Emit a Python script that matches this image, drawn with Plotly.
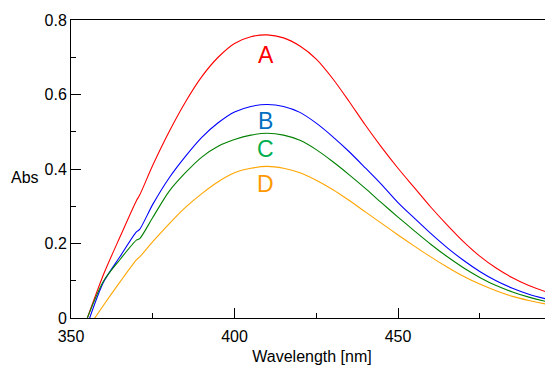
import plotly.graph_objects as go

wavelength = [355, 360, 365, 370, 371, 375, 380, 385, 390, 395, 400, 405, 410, 415, 420,
              425, 430, 435, 440, 445, 450, 455, 460, 465, 470, 475, 480, 485, 490, 495, 500]

abs_a = [0.0, 0.118, 0.218, 0.315, 0.33, 0.41, 0.50, 0.58, 0.648, 0.70, 0.737, 0.755, 0.76, 0.752, 0.73,
         0.695, 0.643, 0.582, 0.518, 0.458, 0.402, 0.35, 0.298, 0.25, 0.205, 0.166, 0.134, 0.108, 0.087, 0.071, 0.058]
abs_b = [-0.018, 0.097, 0.165, 0.231, 0.238, 0.305, 0.376, 0.434, 0.485, 0.524, 0.553, 0.568, 0.573, 0.568, 0.552,
         0.523, 0.487, 0.447, 0.403, 0.358, 0.31, 0.268, 0.227, 0.189, 0.155, 0.125, 0.1, 0.08, 0.064, 0.052, 0.042]
abs_c = [0.0, 0.10, 0.157, 0.209, 0.213, 0.27, 0.34, 0.39, 0.432, 0.461, 0.479, 0.491, 0.496, 0.491, 0.477,
         0.452, 0.42, 0.385, 0.348, 0.309, 0.271, 0.234, 0.198, 0.165, 0.135, 0.109, 0.087, 0.07, 0.056, 0.045, 0.036]
abs_d = [-0.03, 0.035, 0.097, 0.156, 0.164, 0.205, 0.253, 0.297, 0.334, 0.366, 0.39, 0.402, 0.407, 0.402, 0.39,
         0.37, 0.345, 0.316, 0.285, 0.254, 0.223, 0.193, 0.164, 0.137, 0.112, 0.091, 0.073, 0.058, 0.047, 0.038, 0.031]

series_names = ["A", "B", "C", "D"]
line_colors = ["#ff0000", "#0000ff", "#008000", "#ffa500"]
label_colors = ["#ff0000", "#0070c0", "#00b050", "#ff9900"]
label_y = [0.705, 0.529, 0.453, 0.36]
label_x = 409.5

fig = go.Figure()
for name, ys, col in zip(series_names, [abs_a, abs_b, abs_c, abs_d], line_colors):
    fig.add_trace(go.Scatter(x=wavelength, y=ys, mode="lines", name=name,
                             line=dict(color=col, width=1.1, shape="spline", smoothing=0.8),
                             showlegend=False))

for name, y, col in zip(series_names, label_y, label_colors):
    fig.add_annotation(x=label_x, y=y, text=name, showarrow=False,
                       font=dict(family="Liberation Sans", size=23, color=col))

fig.add_annotation(xref="paper", yref="paper", x=-0.062, y=0.472, text="Abs", showarrow=False,
                   xanchor="right", font=dict(family="Liberation Sans", size=16, color="black"))

fig.update_layout(
    width=545, height=357,
    margin=dict(l=63, r=0, t=12, b=37),
    plot_bgcolor="white", paper_bgcolor="white",
    font=dict(family="Liberation Sans", size=16, color="black"),
    xaxis=dict(range=[350, 497.4], tickvals=[350, 400, 450, 500], ticks="inside", ticklen=10,
               tickcolor="black", showline=True, linecolor="black", linewidth=1, mirror=True,
               showgrid=False, zeroline=False, ticklabelstandoff=4,
               minor=dict(ticks="inside", ticklen=5, dtick=25, tick0=350, tickcolor="black"),
               title=dict(text="Wavelength [nm]", standoff=9, font=dict(size=16))),
    yaxis=dict(range=[0, 0.8], tickvals=[0, 0.2, 0.4, 0.6, 0.8], ticktext=["0", "0.2", "0.4", "0.6", "0.8"],
               ticks="inside", ticklen=10, tickcolor="black", showline=True, linecolor="black",
               linewidth=1, showgrid=False, zeroline=False,
               minor=dict(ticks="inside", ticklen=5, dtick=0.1, tick0=0, tickcolor="black")),
)

fig.write_html("out.html")
